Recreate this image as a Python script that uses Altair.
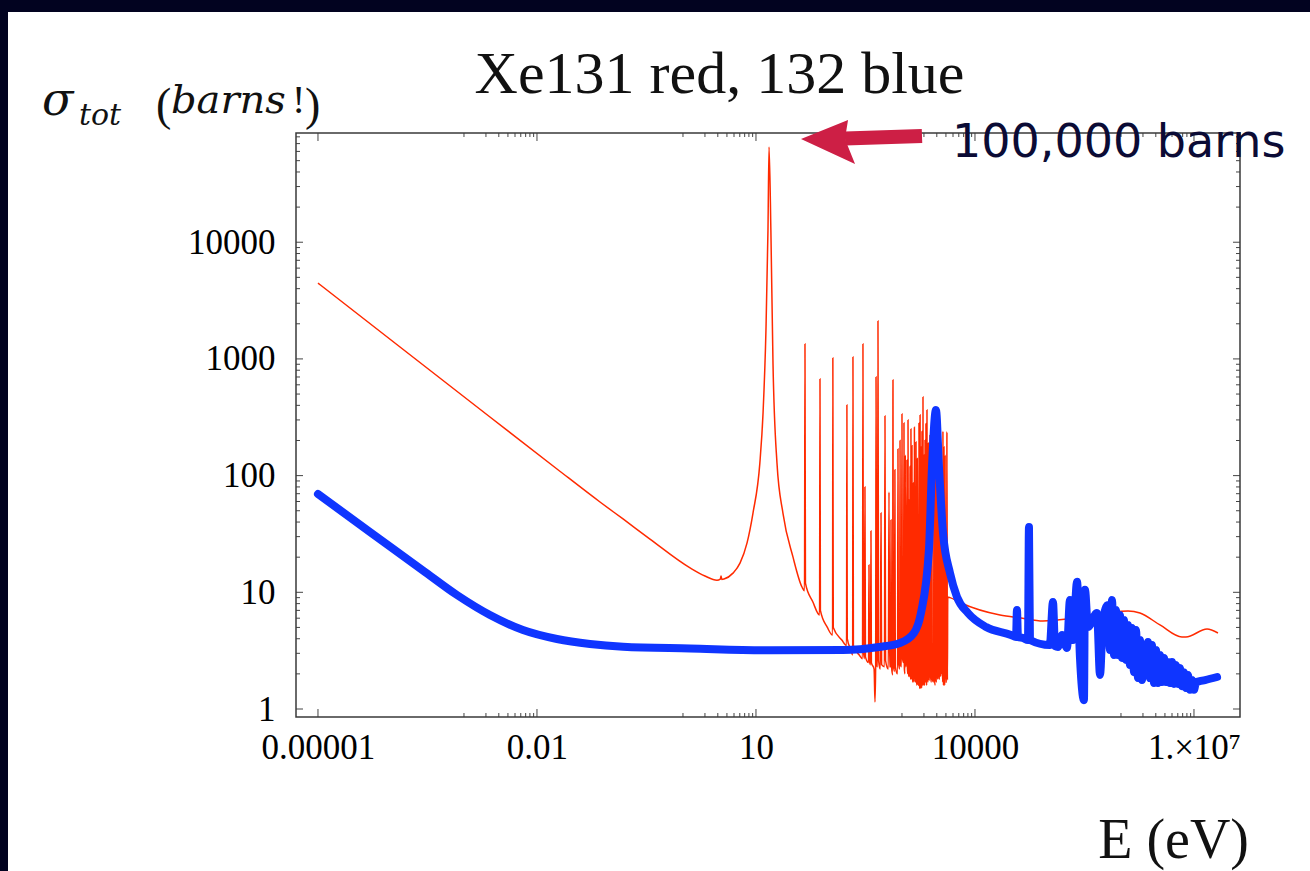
import altair as alt
import pandas as pd

# ---------------- data ----------------
# Xe-131 total cross section (red): (E in eV, sigma in barns)
red_points = [
    (1e-5, 4470), (1.33e-4, 1265), (2.27e-3, 318), (0.0188, 114), (0.0730, 59.4),
    (0.151, 42.5), (0.353, 28.6), (1.25, 16.2), (2.0, 13.8), (2.92, 12.7),
    (3.25, 13.0), (3.32, 13.8), (3.40, 12.9), (3.65, 13.0), (4.84, 14.6),
    (6.04, 17.8), (7.53, 26.4), (9.10, 47.8), (11.3, 128), (12.5, 344),
    (13.7, 1770), (14.6, 12700), (15.1, 65400), (16.0, 12700), (17.1, 923),
    (19.4, 128), (23.4, 47.8), (32.1, 20.1), (42.7, 11.1),
    (46.2, 10.3), (46.9, 1340), (47.6, 12.0), (60, 8.3), (74.3, 6.4),
    (75.3, 673), (76.3, 7.0), (95, 5.0), (112, 4.3),
    (113, 1020), (114.5, 5.0), (150, 3.9), (174, 3.5),
    (176, 403), (178, 4.0), (200, 3.2), (211, 2.9),
    (213, 1040), (216, 3.5), (260, 2.9), (288, 2.7),
    (292, 1340), (296, 3.2), (306, 2.7),
    (311, 79.8), (316, 2.8), (348, 2.5),
    (353, 17.1), (358, 2.6), (371, 2.4),
    (376, 33.5), (381, 2.5), (415, 2.2),
    (427, 1.15), (436, 2.3),
    (441, 700), (450, 2.4), (463, 2.3),
    (469, 2110), (478, 2.6), (505, 2.2),
    (516, 47.8), (526, 2.4), (575, 2.3),
    (585, 324), (596, 2.6), (650, 2.2),
    (664, 72.3), (676, 2.3), (700, 2.3),
    (707, 41.7), (720, 2.3), (745, 1.96),
    (753, 660), (762, 2.4), (790, 2.1), (800, 112), (810, 2.3), (870, 2.0),
    (881, 169), (892, 2.6), (930, 2.2), (940, 200), (952, 2.4), (985, 2.3),
    (1000, 337), (1012, 2.8), (1050, 2.5), (1065, 282), (1078, 2.2), (1100, 2.0),
    (1110, 150), (1125, 2.3), (1150, 2.74), (1170, 136), (1185, 2.3), (1200, 2.0),
    (1210, 300), (1225, 2.2), (1240, 1.9), (1247, 61.8), (1262, 2.1), (1280, 1.9),
    (1290, 120), (1305, 2.0), (1318, 1.8), (1327, 251), (1342, 2.2), (1360, 1.8),
    (1370, 180), (1385, 2.0), (1405, 1.7), (1416, 86.4), (1432, 1.9), (1465, 1.7),
    (1480, 260), (1500, 1.9), (1540, 1.7), (1556, 194), (1575, 1.8), (1605, 1.6),
    (1620, 140), (1640, 1.7), (1695, 1.6), (1710, 282), (1730, 1.7), (1755, 1.5),
    (1770, 330), (1790, 1.8), (1808, 1.5), (1820, 176), (1840, 1.8), (1865, 1.51),
    (1880, 240), (1900, 1.7), (1925, 1.6), (1940, 472), (1960, 1.8), (1985, 1.6),
    (2000, 150), (2025, 1.7), (2055, 1.6), (2070, 202), (2090, 1.8), (2115, 1.7),
    (2130, 280), (2155, 1.8), (2185, 1.6), (2200, 365), (2225, 1.9), (2280, 1.7),
    (2300, 190), (2330, 1.8), (2395, 1.77), (2420, 223), (2450, 2.0), (2530, 1.7),
    (2560, 260), (2600, 1.8), (2715, 1.7), (2740, 112), (2770, 1.9), (2850, 1.6),
    (2880, 170), (2920, 1.8), (2985, 1.7), (3010, 150), (3050, 1.9), (3120, 1.8),
    (3150, 200), (3190, 1.9), (3290, 1.8), (3320, 91.7), (3360, 2.0), (3395, 1.9),
    (3420, 130), (3460, 2.1), (3505, 2.0), (3530, 61.8), (3570, 2.2), (3615, 1.7),
    (3640, 240), (3680, 1.6), (3735, 1.8), (3760, 176), (3800, 1.8), (3870, 1.6),
    (3900, 150), (3950, 1.7), (4100, 1.7), (4130, 236), (4190, 1.77), (4240, 9.1),
    (4550, 9.0), (6430, 8.10), (22000, 6.39), (42700, 6.02), (85400, 5.68),
    (182000, 5.90), (516000, 6.65), (1.25e6, 6.92), (1.82e6, 6.65),
    (3.42e6, 5.25), (6.85e6, 4.14), (7.77e6, 4.14), (1.51e7, 4.85), (2.13e7, 4.48),
]

# Xe-132 total cross section (blue)
blue_points = [
    (1e-5, 69.5), (3.42e-5, 39.7), (9.68e-5, 24.7), (2.74e-4, 15.4), (8.02e-4, 9.48),
    (2.27e-3, 6.39), (6.43e-3, 4.75), (0.0188, 3.98), (0.0532, 3.61), (0.151, 3.42),
    (1.25, 3.30), (16.0, 3.18), (155, 3.20), (484, 3.40), (939, 3.68),
    (1460, 4.48), (1820, 6.65), (2340, 23.0), (2580, 119), (2920, 365),
    (3210, 119), (3650, 32.2), (4550, 14.6), (5670, 9.12), (8010, 6.65),
    (14200, 5.04), (31100, 4.31), (36500, 4.14), (37600, 7.05), (38800, 4.14),
    (45500, 4.06), (53200, 3.90), (54900, 36.3), (56600, 3.90), (106000, 3.53),
    (117000, 8.26), (125000, 3.46), (137000, 3.40), (156000, 4.31), (182000, 3.33),
    (200000, 8.59), (220000, 3.90), (250000, 12.3), (274000, 2.79), (311000, 1.19),
    (321000, 10.5), (353000, 5.04), (469000, 6.65), (516000, 1.96), (566000, 5.79),
    (6.64e5, 7.78), (7.07e5, 3.20), (7.53e5, 8.59), (8.02e5, 2.90), (8.54e5, 7.05),
    (9.10e5, 2.90), (9.69e5, 6.39), (1.032e6, 2.74), (1.099e6, 5.79), (1.171e6, 2.63),
    (1.247e6, 5.25), (1.328e6, 2.38), (1.415e6, 4.94), (1.507e6, 2.07), (1.605e6, 4.75),
    (1.710e6, 1.84), (1.821e6, 3.90), (1.940e6, 1.77), (2.066e6, 3.53), (2.200e6, 1.96),
    (2.344e6, 3.75), (2.497e6, 1.84), (2.659e6, 3.53), (2.833e6, 1.67), (3.017e6, 3.20),
    (3.213e6, 1.67), (3.422e6, 2.90), (3.645e6, 1.70), (3.882e6, 2.74), (4.135e6, 1.70),
    (4.404e6, 2.53), (4.691e6, 1.67), (4.996e6, 2.53), (5.321e6, 1.64), (5.667e6, 2.38),
    (6.036e6, 1.64), (6.429e6, 2.25), (6.847e6, 1.57), (7.293e6, 2.07), (7.768e6, 1.51),
    (8.273e6, 1.96), (8.812e6, 1.46), (9.389e6, 1.77), (1.0e7, 1.46), (1.065e7, 1.70),
    (1.2e7, 1.73), (1.42e7, 1.77), (2.07e7, 1.88),
]

# axis ticks / labels
x_major = [1e-5, 1e-2, 10, 1e4, 1e7]
x_labels = ["0.00001", "0.01", "10", "10000", "1.×10⁷"]
y_major = [1, 10, 100, 1000, 10000]
y_labels = ["1", "10", "100", "1000", "10000"]

X_DOMAIN = [5.0e-6, 4.27e7]
Y_DOMAIN = [0.854, 86300]
W, H = 944, 584

x_minor = [m / 10 * k for m in x_major[1:] for k in range(1, 10)]
y_minor = [k * 10 ** d for d in range(0, 5) for k in range(2, 10) if k * 10 ** d < Y_DOMAIN[1]]

red_df = pd.DataFrame(red_points, columns=["E", "sigma"])
blue_df = pd.DataFrame(blue_points, columns=["E", "sigma"])
dummy = pd.DataFrame({"d": [0]})


def label_expr(values, labels):
    parts = []
    for v, lab in zip(values[:-1], labels[:-1]):
        parts.append(f"datum.value < {v * 3:g} ? '{lab}' : ")
    return "".join(parts) + f"'{labels[-1]}'"


xs = alt.Scale(type="log", domain=X_DOMAIN, nice=False)
ys = alt.Scale(type="log", domain=Y_DOMAIN, nice=False)

x_axis = alt.Axis(values=x_major, labelExpr=label_expr(x_major, x_labels),
                  ticks=False, domain=False, grid=False, labelPadding=13,
                  labelFont="Liberation Serif", labelFontSize=35, zindex=5,
                  labelColor="black", labelFlush=False, labelOverlap=False, title=None)
y_axis = alt.Axis(values=y_major, labelExpr=label_expr(y_major, y_labels),
                  ticks=False, domain=False, grid=False, labelPadding=21,
                  labelFont="Liberation Serif", labelFontSize=35, zindex=5,
                  labelColor="black", labelFlush=False, labelOverlap=False, title=None)


def X(field="E:Q"):
    return alt.X(field, scale=xs, axis=x_axis)


def Y(field="sigma:Q"):
    return alt.Y(field, scale=ys, axis=y_axis)


TICK = "#444444"
layers = []

# white page area over the dark navy frame
layers.append(
    alt.Chart(dummy).mark_rect(color="white").encode(
        x=alt.value(-288), x2=alt.value(1014), y=alt.value(-121), y2=alt.value(738)
    )
)

# ticks pointing inward on all four sides
for vals, ln in ((x_major, 8), (x_minor, 4)):
    tdf = pd.DataFrame({"E": vals})
    tdf = tdf[(tdf.E > X_DOMAIN[0]) & (tdf.E < X_DOMAIN[1])]
    base = alt.Chart(tdf).mark_rule(color=TICK, strokeWidth=1)
    layers.append(base.encode(x=X(), y=alt.value(H), y2=alt.value(H - ln)))
    layers.append(base.encode(x=X(), y=alt.value(0), y2=alt.value(ln)))
for vals, ln in ((y_major, 7), (y_minor, 4)):
    tdf = pd.DataFrame({"sigma": vals})
    base = alt.Chart(tdf).mark_rule(color=TICK, strokeWidth=1)
    layers.append(base.encode(y=Y(), x=alt.value(0), x2=alt.value(ln)))
    layers.append(base.encode(y=Y(), x=alt.value(W), x2=alt.value(W - ln)))

# frame
layers.append(
    alt.Chart(dummy).mark_rect(filled=False, stroke="#3a3a3a", strokeWidth=1.5).encode(
        x=alt.value(0), x2=alt.value(W), y=alt.value(0), y2=alt.value(H)
    )
)

# red (Xe131)
layers.append(
    alt.Chart(red_df).mark_line(color="#FF2A00", strokeWidth=1.5, interpolate="monotone").encode(
        x=X(), y=Y()
    )
)

# blue (Xe132)
layers.append(
    alt.Chart(blue_df).mark_line(color="#0F35FF", strokeWidth=8, strokeCap="round",
                                 strokeJoin="round", interpolate="monotone").encode(
        x=X(), y=Y()
    )
)

# arrow annotation
ARROW = "#CD1F45"
layers.append(
    alt.Chart(dummy).mark_rule(color=ARROW, strokeWidth=14).encode(
        x=alt.value(549), x2=alt.value(626), y=alt.value(5.5), y2=alt.value(3)
    )
)
layers.append(
    alt.Chart(dummy).mark_point(
        shape="M -1 -0.11 L 0.68 -0.79 L 0.57 -0.11 L 0.93 0.79 Z",
        filled=True, color=ARROW, opacity=1, size=3136, strokeWidth=0,
    ).encode(x=alt.value(533), y=alt.value(9))
)


def text_layer(txt, x, y, size, font, align="left", style="normal", color="#111111"):
    return alt.Chart(dummy).mark_text(
        text=txt, font=font, fontSize=size, fontStyle=style, align=align,
        baseline="alphabetic", color=color,
    ).encode(x=alt.value(x), y=alt.value(y))


layers.append(text_layer("Xe131 red, 132 blue", 423.5, -40, 60, "Liberation Serif", align="center"))
layers.append(text_layer("E (eV)", 953, 725, 56, "Liberation Serif", align="right"))
layers.append(text_layer("100,000 barns", 656, 24, 46, "DejaVu Sans", color="#0B0B35"))
layers.append(text_layer("σ", -254, -18, 46, "DejaVu Serif", style="italic"))
layers.append(text_layer("tot", -217, -8, 30, "DejaVu Serif", style="italic"))
layers.append(text_layer("(", -140, -13, 46, "Liberation Serif"))
layers.append(text_layer("barns", -125, -20, 40, "DejaVu Serif", style="italic"))
layers.append(text_layer("!", -4, -20, 40, "Liberation Serif"))
layers.append(text_layer(")", 9, -13, 46, "Liberation Serif"))

chart = alt.layer(*layers).properties(
    width=W, height=H,
    autosize=alt.AutoSizeParams(type="none"),
    padding={"left": 296, "top": 133, "right": 70, "bottom": 154},
    background="#020320",
).configure_view(stroke=None)

chart.save("out.html", embed_options={"renderer": "svg", "actions": False})
